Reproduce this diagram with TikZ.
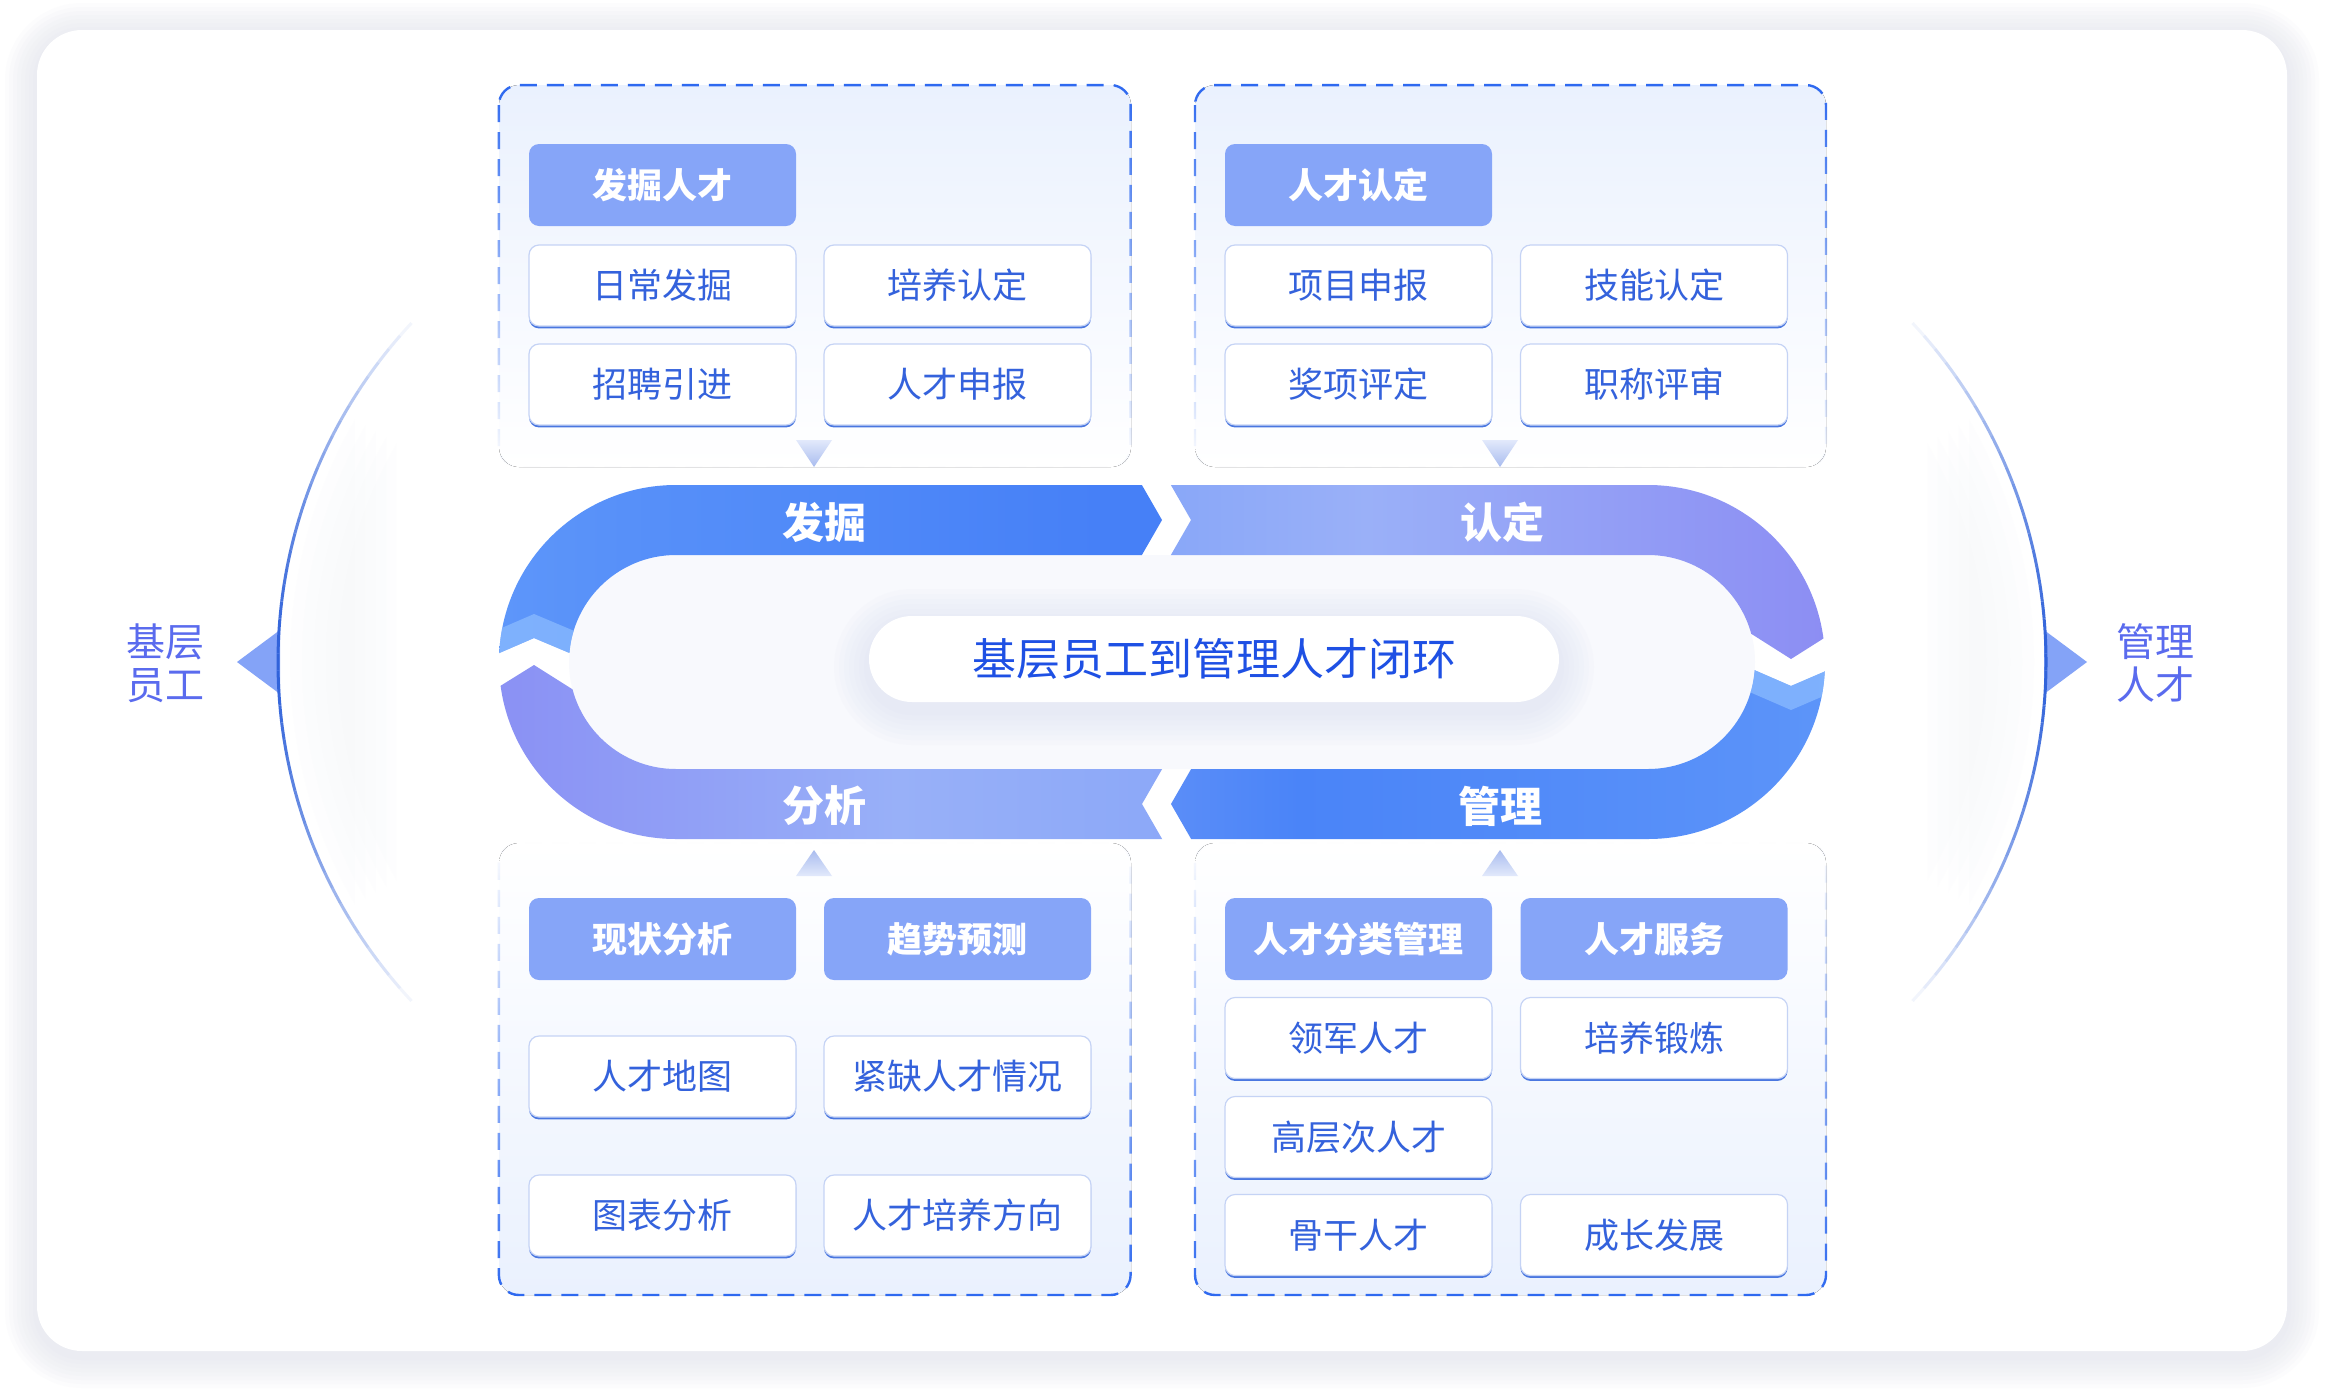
\documentclass[tikz,border=0pt]{standalone}
\usepackage{fontspec}
\setmainfont{Noto Sans CJK SC}
\usetikzlibrary{fadings,shadows,calc}

\definecolor{hdrfill}{HTML}{86A5F8}
\definecolor{itemtxt}{HTML}{3462DC}
\definecolor{dashc}{HTML}{2E69F0}
\definecolor{ctrtxt}{HTML}{1E50E4}
\definecolor{sidec}{HTML}{5A6BEE}
\definecolor{arcc}{HTML}{3163DA}
\definecolor{trifill}{HTML}{84A3F7}
\definecolor{botline}{HTML}{4A77E0}
\definecolor{sideline}{HTML}{C5D3F5}
\definecolor{boxtop}{HTML}{EAF1FE}
\definecolor{smtriA}{HTML}{E2E9FB}
\definecolor{smtriB}{HTML}{A9BCEF}
\definecolor{cardsh}{HTML}{D8DBE8}
\definecolor{pillsh}{HTML}{D3DAEE}
\definecolor{loopbg}{HTML}{F8F9FD}
\definecolor{glow}{HTML}{EEF0F6}
\definecolor{bFJa}{HTML}{6FA7FC}
\definecolor{bFJb}{HTML}{5790F9}
\definecolor{bFJc}{HTML}{4680F7}
\definecolor{bRDa}{HTML}{6C98F8}
\definecolor{bRDb}{HTML}{9AB0F8}
\definecolor{bRDc}{HTML}{8C8DF3}
\definecolor{bRDd}{HTML}{7367EC}
\definecolor{bGLa}{HTML}{86A6F8}
\definecolor{bGLb}{HTML}{4A84F8}
\definecolor{bGLc}{HTML}{5A92F9}
\definecolor{bGLd}{HTML}{6CA6FB}
\definecolor{bFXa}{HTML}{7470EC}
\definecolor{bFXb}{HTML}{8A90F4}
\definecolor{bFXc}{HTML}{98B0F8}
\definecolor{bFXd}{HTML}{7C9EF8}
\definecolor{hilite}{HTML}{8DBDFF}

\pgfdeclarehorizontalshading{shFJ}{100bp}{color(0bp)=(bFJa); color(35bp)=(bFJb); color(70bp)=(bFJc); color(100bp)=(bFJc)}
\pgfdeclarehorizontalshading{shRD}{100bp}{color(0bp)=(bRDa); color(40bp)=(bRDb); color(75bp)=(bRDc); color(100bp)=(bRDd)}
\pgfdeclarehorizontalshading{shGL}{100bp}{color(0bp)=(bGLa); color(35bp)=(bGLb); color(70bp)=(bGLc); color(100bp)=(bGLd)}
\pgfdeclarehorizontalshading{shFX}{100bp}{color(0bp)=(bFXa); color(25bp)=(bFXb); color(55bp)=(bFXc); color(100bp)=(bFXd)}

\tikzfading[name=fadedown, top color=transparent!0, middle color=transparent!0, bottom color=transparent!100]
\tikzfading[name=fadeup, top color=transparent!100, middle color=transparent!0, bottom color=transparent!0]

\newcommand\ringpath{(676,485) -- (1648,485) arc[start angle=-90, end angle=90, radius=177] -- (676,839) arc[start angle=90, end angle=270, radius=177] -- cycle (676,555) arc[start angle=270, end angle=90, radius=107] -- (1648,769) arc[start angle=90, end angle=-90, radius=107] -- cycle}

\tikzset{
 itembox/.style={draw=sideline, line width=0.6pt, fill=white, rounded corners=5pt,
   minimum width=133.5pt, minimum height=40.5pt, inner sep=0pt, text=itemtxt,
   font=\fontsize{17.5}{20}\selectfont,
   general shadow={fill=botline, shadow xshift=0pt, shadow yshift=-1.2pt}},
 hdrbox/.style={fill=hdrfill, rounded corners=5pt, minimum width=133.5pt, minimum height=41pt,
   inner sep=0pt, text=white, font=\fontsize{17.5}{20}\selectfont\bfseries},
 bandlbl/.style={text=white, font=\fontsize{21}{24}\selectfont\bfseries, inner sep=0pt},
 sidelbl/.style={text=sidec, font=\fontsize{19.5}{21.5}\selectfont, align=center, inner sep=0pt},
 dashbox/.style={draw=dashc, line width=1.2pt, dash pattern=on 8.5pt off 5pt, rounded corners=10pt},
 arcline/.style={draw=arcc, line width=1.5pt},
 pill/.style={fill=white, rounded corners=21.5pt, minimum width=345pt, minimum height=43pt,
   inner sep=0pt, text=ctrtxt, font=\fontsize{22}{26}\selectfont},
}

\begin{document}
\begin{tikzpicture}[x=0.5pt,y=-0.5pt]
\useasboundingbox (0,0) rectangle (2328,1398);
\fill[white] (0,0) rectangle (2328,1398);
% card shadow and card
\foreach \i in {1,...,8}{
  \pgfmathsetmacro\rr{22.5+\i*2}
  \fill[cardsh, opacity=0.07, rounded corners=\rr pt] (37-\i*4, 30-\i*4+5) rectangle (2287+\i*4, 1351+\i*4+5);
}
\fill[white, rounded corners=22.5pt] (37,30) rectangle (2287,1351);

% faint glow inside the side arcs
\foreach \i in {1,...,5}{
  \fill[glow, opacity=0.07] (775,662) ++(150:{497-\i*12}) arc[start angle=150, end angle=210, radius={497-\i*12}] -- cycle;
  \fill[glow, opacity=0.07] (1549,662) ++(-30:{497-\i*12}) arc[start angle=-30, end angle=30, radius={497-\i*12}] -- cycle;
}
\fill[white] (400,330) rectangle (1924,1000);

% side triangles and arcs
\fill[trifill] (280,630) -- (237,662) -- (280,694) -- cycle;
\fill[trifill] (2044,630) -- (2087,662) -- (2044,694) -- cycle;
\foreach \a in {137,139,...,221}{
  \pgfmathsetmacro\op{max(0,1-(abs(\a+1-180)/44)^1.4)}
  \draw[arcline, draw opacity=\op] (775,662) ++(\a:497) arc[start angle=\a, end angle=\a+2, radius=497];
  \pgfmathsetmacro\b{\a-180}
  \draw[arcline, draw opacity=\op] (1549,662) ++(\b:497) arc[start angle=\b, end angle=\b+2, radius=497];
}
\node[sidelbl] (lJC) at (165,663) {基层\\员工};
\node[sidelbl] (lGL) at (2155,663) {管理\\人才};

% dashed panels
\fill[top color=boxtop, bottom color=white, rounded corners=10pt] (499,85) rectangle (1131,467);
\draw[dashbox, path fading=fadedown] (499,85) rectangle (1131,467);
\fill[top color=boxtop, bottom color=white, rounded corners=10pt] (1195,85) rectangle (1826,467);
\draw[dashbox, path fading=fadedown] (1195,85) rectangle (1826,467);
\fill[top color=white, bottom color=boxtop, rounded corners=10pt] (499,843) rectangle (1131,1295);
\draw[dashbox, path fading=fadeup] (499,843) rectangle (1131,1295);
\fill[top color=white, bottom color=boxtop, rounded corners=10pt] (1195,843) rectangle (1826,1295);
\draw[dashbox, path fading=fadeup] (1195,843) rectangle (1826,1295);

% small pointer triangles
\shade[top color=smtriA, bottom color=smtriB] (796,440) -- (832,440) -- (814,467) -- cycle;
\shade[top color=smtriA, bottom color=smtriB] (1482,440) -- (1518,440) -- (1500,467) -- cycle;
\shade[top color=smtriB, bottom color=smtriA] (814,850) -- (832,876) -- (796,876) -- cycle;
\shade[top color=smtriB, bottom color=smtriA] (1500,850) -- (1518,876) -- (1482,876) -- cycle;

% loop hole backdrop
\fill[loopbg] (676,555) arc[start angle=270, end angle=90, radius=107] -- (1648,769) arc[start angle=90, end angle=-90, radius=107] -- cycle;

% band pieces
\begin{scope}[even odd rule]
 \clip (460,440) -- (1116,440) -- (1162,520) -- (1116,600) -- (800,662) -- (610,670) -- (534,638) -- (460,670) -- cycle;
 \clip \ringpath;
 \shade[shading=shFJ] (490,470) rectangle (1170,680);
 \fill[hilite, opacity=0.7] (460,670) -- (534,638) -- (610,670) -- (610,646) -- (534,614) -- (460,646) -- cycle;
\end{scope}
\begin{scope}[even odd rule]
 \clip (1145,440) -- (1191,520) -- (1145,600) -- (1650,662) -- (1720,614) -- (1791,659) -- (1870,609) -- (1870,440) -- cycle;
 \clip \ringpath;
 \shade[shading=shRD] (1165,470) rectangle (1835,670);
\end{scope}
\begin{scope}[even odd rule]
 \clip (1870,652) -- (1791,686) -- (1715,653) -- (1217,724) -- (1171,804) -- (1217,884) -- (1870,884) -- cycle;
 \clip \ringpath;
 \shade[shading=shGL] (1165,645) rectangle (1835,850);
 \fill[hilite, opacity=0.7] (1870,652) -- (1791,686) -- (1715,653) -- (1715,677) -- (1791,710) -- (1870,676) -- cycle;
\end{scope}
\begin{scope}[even odd rule]
 \clip (1188,724) -- (1142,804) -- (1188,884) -- (460,884) -- (460,711) -- (534,665) -- (610,713) -- cycle;
 \clip \ringpath;
 \shade[shading=shFX] (490,650) rectangle (1170,850);
\end{scope}

\node[bandlbl] (tFJ) at (824,522) {发掘};
\node[bandlbl] (tRD) at (1502,522) {认定};
\node[bandlbl] (tFX) at (824,806) {分析};
\node[bandlbl] (tGL) at (1500,806) {管理};

% centre pill
\foreach \i in {1,...,7}{
  \pgfmathsetmacro\rr{21.5+\i*2.5}
  \fill[pillsh, opacity=0.07, rounded corners=\rr pt] (869-\i*5, 616-\i*5+8) rectangle (1559+\i*5, 702+\i*5+8);
}
\node[pill] (ctr) at (1214,659) {基层员工到管理人才闭环};

% top-left panel
\node[hdrbox] (hFJ) at (662.5,185) {发掘人才};
\node[itembox] (i11) at (662.5,285.5) {日常发掘};
\node[itembox] (i12) at (957.5,285.5) {培养认定};
\node[itembox] (i13) at (662.5,384.5) {招聘引进};
\node[itembox] (i14) at (957.5,384.5) {人才申报};
% top-right panel
\node[hdrbox] (hRD) at (1358.5,185) {人才认定};
\node[itembox] (i21) at (1358.5,285.5) {项目申报};
\node[itembox] (i22) at (1654,285.5) {技能认定};
\node[itembox] (i23) at (1358.5,384.5) {奖项评定};
\node[itembox] (i24) at (1654,384.5) {职称评审};
% bottom-left panel
\node[hdrbox] (hFX1) at (662.5,939) {现状分析};
\node[hdrbox] (hFX2) at (957.5,939) {趋势预测};
\node[itembox] (i31) at (662.5,1076.5) {人才地图};
\node[itembox] (i32) at (957.5,1076.5) {紧缺人才情况};
\node[itembox] (i33) at (662.5,1215.5) {图表分析};
\node[itembox] (i34) at (957.5,1215.5) {人才培养方向};
% bottom-right panel
\node[hdrbox] (hGL1) at (1358.5,939) {人才分类管理};
\node[hdrbox] (hGL2) at (1654,939) {人才服务};
\node[itembox] (i41) at (1358.5,1038) {领军人才};
\node[itembox] (i42) at (1654,1038) {培养锻炼};
\node[itembox] (i43) at (1358.5,1137) {高层次人才};
\node[itembox] (i44) at (1358.5,1235) {骨干人才};
\node[itembox] (i45) at (1654,1235) {成长发展};
\end{tikzpicture}
\end{document}
